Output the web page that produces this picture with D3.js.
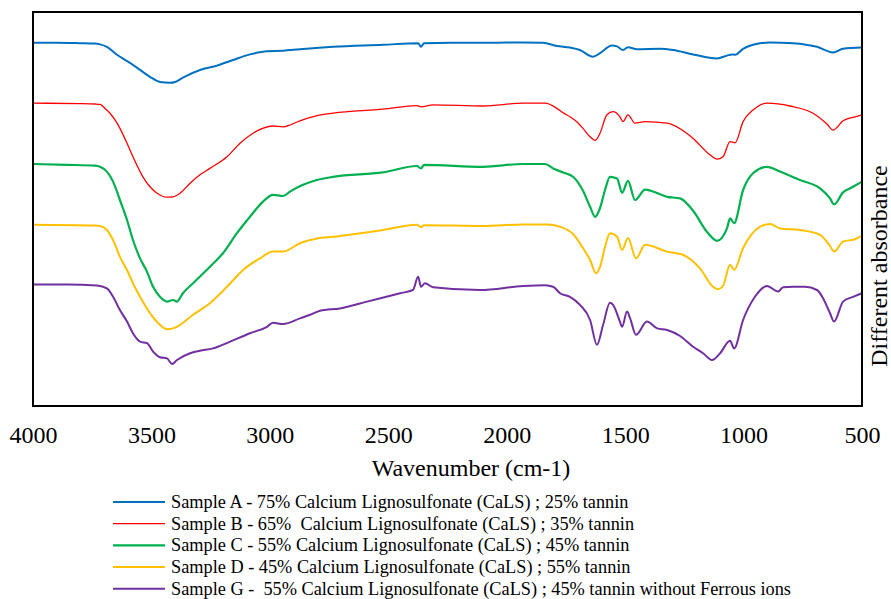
<!DOCTYPE html>
<html>
<head>
<meta charset="utf-8">
<script src="https://cdn.jsdelivr.net/npm/d3@7"></script>
<style>
  body { margin: 0; background: #fff; }
  text { font-family: "Liberation Serif", "Times New Roman", serif; fill: #000; }
</style>
</head>
<body>
<svg id="chart" width="891" height="599"></svg>
<script>
// FTIR spectra, [wavenumber cm-1, offset absorbance (a.u.)]
const sampleA = [[4000,90.8],[3900,90.8],[3802,90.7],[3738,90.6],[3717,90.4],[3688,89.8],[3645,87.8],[3578,85.3],[3506,82.3],[3464,81.0],[3422,80.8],[3400,81.0],[3367,82.1],[3295,84.0],[3223,85.1],[3156,86.5],[3084,87.9],[3012,88.7],[2944,88.8],[2873,89.2],[2733,89.8],[2522,90.3],[2374,90.7],[2362,89.8],[2349,90.7],[2239,90.8],[2071,90.8],[1931,90.9],[1847,90.8],[1788,90.0],[1733,89.6],[1691,89.0],[1636,87.3],[1606,88.2],[1556,90.1],[1534,89.9],[1509,89.0],[1488,89.7],[1450,89.2],[1353,89.3],[1298,89.0],[1213,87.9],[1112,86.9],[1070,87.6],[1049,87.9],[1036,87.8],[1002,89.3],[931,90.7],[888,90.9],[791,90.7],[690,89.8],[622,88.4],[580,89.3],[500,89.6]];

const sampleB = [[4000,75.7],[3802,75.6],[3738,75.5],[3717,75.4],[3696,74.4],[3675,73.2],[3645,70.7],[3603,65.7],[3578,62.3],[3536,57.3],[3506,54.8],[3476,53.2],[3434,52.2],[3409,52.3],[3379,53.2],[3337,55.7],[3295,57.8],[3253,59.4],[3181,62.3],[3126,65.7],[3071,68.2],[2987,70.0],[2944,69.8],[2928,70.0],[2873,71.3],[2801,72.6],[2733,73.2],[2522,74.2],[2379,75.1],[2362,74.8],[2311,75.3],[2100,75.0],[1931,75.7],[1838,75.7],[1788,74.4],[1762,73.3],[1733,72.3],[1703,71.0],[1678,69.4],[1648,67.3],[1627,66.4],[1606,68.2],[1577,72.8],[1551,73.6],[1522,72.3],[1509,71.1],[1488,72.8],[1458,70.7],[1416,71.1],[1323,70.7],[1213,66.9],[1142,62.8],[1112,61.7],[1087,62.3],[1057,66.1],[1036,65.8],[1002,71.1],[960,74.0],[901,75.7],[804,75.0],[707,73.2],[648,70.5],[622,69.0],[580,71.3],[530,72.3],[500,72.8]];

const sampleC = [[4000,60.5],[3856,60.3],[3738,60.1],[3717,59.8],[3688,58.6],[3662,56.1],[3633,51.5],[3603,46.5],[3578,41.5],[3548,36.9],[3519,33.6],[3493,29.8],[3464,27.3],[3434,26.1],[3409,26.5],[3392,26.1],[3367,28.2],[3324,30.7],[3253,34.8],[3198,38.2],[3139,43.2],[3084,47.3],[3029,51.1],[2987,52.8],[2944,52.5],[2915,53.6],[2860,55.3],[2801,56.5],[2733,57.3],[2522,58.4],[2379,60.0],[2362,59.4],[2349,60.3],[2100,59.8],[1931,60.5],[1838,60.5],[1804,59.4],[1762,58.4],[1720,57.3],[1678,53.8],[1648,49.8],[1627,47.3],[1606,49.5],[1585,54.0],[1564,57.3],[1534,56.9],[1513,53.3],[1488,56.3],[1458,51.5],[1416,54.1],[1323,52.3],[1268,51.9],[1213,48.8],[1154,43.5],[1112,41.3],[1070,44.4],[1057,46.9],[1040,45.7],[1002,54.0],[960,58.2],[901,59.8],[846,58.6],[762,56.5],[677,54.4],[635,51.9],[618,50.4],[580,53.4],[538,54.8],[500,56.1]];

const sampleD = [[4000,45.3],[3738,45.1],[3717,45.0],[3688,44.0],[3662,41.5],[3633,37.3],[3603,34.0],[3578,30.7],[3548,27.3],[3506,23.2],[3464,20.3],[3434,19.2],[3409,19.4],[3379,20.3],[3324,22.8],[3253,25.7],[3181,29.8],[3113,34.0],[3042,36.9],[2987,38.6],[2944,38.6],[2873,40.7],[2801,41.9],[2733,42.3],[2522,44.0],[2379,45.3],[2362,44.7],[2349,45.2],[2100,45.0],[1931,45.4],[1830,45.4],[1775,44.8],[1720,43.0],[1678,39.5],[1648,36.5],[1623,33.2],[1606,34.8],[1585,39.8],[1564,43.2],[1534,42.3],[1513,39.0],[1488,42.0],[1454,36.9],[1416,40.3],[1323,38.6],[1256,37.8],[1184,34.4],[1129,29.8],[1108,29.2],[1087,30.0],[1057,35.3],[1040,34.0],[1002,39.5],[931,44.8],[888,45.5],[846,44.4],[762,44.0],[677,42.8],[635,40.0],[618,38.6],[580,41.1],[530,41.7],[500,42.6]];

const sampleG = [[4000,30.4],[3856,30.4],[3730,30.1],[3688,29.4],[3662,27.3],[3633,24.0],[3603,21.1],[3578,18.2],[3548,16.1],[3519,15.7],[3493,13.6],[3464,12.2],[3434,11.9],[3413,10.5],[3392,11.5],[3337,13.2],[3295,13.8],[3240,14.4],[3168,16.1],[3084,18.2],[3012,19.8],[2987,20.8],[2944,20.5],[2873,21.9],[2830,22.8],[2788,23.8],[2704,24.4],[2590,26.1],[2450,28.2],[2396,29.0],[2374,32.3],[2362,29.8],[2345,30.7],[2311,29.7],[2113,29.0],[1931,30.0],[1838,30.2],[1804,29.8],[1775,28.2],[1733,27.3],[1691,25.3],[1648,21.5],[1619,15.3],[1593,20.3],[1564,25.8],[1551,25.3],[1522,21.1],[1513,19.8],[1492,23.6],[1479,21.9],[1454,17.8],[1408,21.1],[1365,19.4],[1323,19.0],[1268,17.5],[1213,14.8],[1171,13.2],[1133,11.5],[1099,13.2],[1057,16.3],[1040,14.4],[1002,21.5],[952,27.3],[901,30.0],[854,28.6],[833,29.7],[791,29.8],[741,29.8],[690,29.0],[664,26.9],[635,23.2],[618,21.1],[580,26.1],[538,27.3],[500,28.2]];

const seriesNames = [
  "Sample A - 75% Calcium Lignosulfonate (CaLS) ; 25% tannin",
  "Sample B - 65%  Calcium Lignosulfonate (CaLS) ; 35% tannin",
  "Sample C - 55% Calcium Lignosulfonate (CaLS) ; 45% tannin",
  "Sample D - 45% Calcium Lignosulfonate (CaLS) ; 55% tannin",
  "Sample G -  55% Calcium Lignosulfonate (CaLS) ; 45% tannin without Ferrous ions"
];
const seriesColors = ["#0070C0", "#FF0000", "#00B050", "#FFC000", "#7030A0"];
const seriesWidths = [2, 1.3, 2.2, 2, 2];
const xTicks = [4000, 3500, 3000, 2500, 2000, 1500, 1000, 500];

const series = [sampleA, sampleB, sampleC, sampleD, sampleG];

const svg = d3.select("#chart");
const plot = { left: 33, right: 862, top: 12, bottom: 406 };

const x = d3.scaleLinear().domain([4000, 500]).range([plot.left, plot.right]);
const y = d3.scaleLinear().domain([0, 98.5]).range([plot.bottom, plot.top]);

const line = d3.line()
    .x(d => x(d[0]))
    .y(d => y(d[1]))
    .curve(d3.curveMonotoneX);

svg.append("g")
    .selectAll("path")
    .data(series)
    .enter().append("path")
    .attr("d", line)
    .attr("fill", "none")
    .attr("stroke", (d, i) => seriesColors[i])
    .attr("stroke-width", (d, i) => seriesWidths[i])
    .attr("stroke-linejoin", "round");

// frame
svg.append("rect")
    .attr("x", plot.left)
    .attr("y", plot.top)
    .attr("width", plot.right - plot.left)
    .attr("height", plot.bottom - plot.top)
    .attr("fill", "none")
    .attr("stroke", "#000")
    .attr("stroke-width", 2);

// x axis labels only, no tick marks
const xAxis = d3.axisBottom(x)
    .tickValues(xTicks)
    .tickFormat(d3.format("d"))
    .tickSize(0)
    .tickPadding(0);
const gx = svg.append("g")
    .attr("transform", `translate(0,${plot.bottom})`)
    .call(xAxis)
    .attr("font-family", "Liberation Serif")
    .attr("font-size", 24);
gx.select(".domain").remove();
gx.selectAll("text")
    .attr("dy", null)
    .attr("y", 37)
    .attr("fill", "#000");

svg.append("text")
    .attr("x", 471)
    .attr("y", 476)
    .attr("text-anchor", "middle")
    .style("font-size", "24px")
    .text("Wavenumber (cm-1)");

svg.append("text")
    .attr("transform", "translate(887,266) rotate(-90)")
    .attr("text-anchor", "middle")
    .style("font-size", "24px")
    .text("Different absorbance");

// legend
const legend = svg.append("g")
    .selectAll("g")
    .data(seriesNames)
    .enter().append("g")
    .attr("transform", (d, i) => `translate(113,${502 + i * 21.7})`);

legend.append("line")
    .attr("x1", 0).attr("x2", 52)
    .attr("stroke", (d, i) => seriesColors[i])
    .attr("stroke-width", (d, i) => seriesWidths[i]);

legend.append("text")
    .attr("x", 58)
    .attr("y", 6)
    .style("font-size", "18.3px")
    .style("white-space", "pre")
    .text(d => d);
</script>
</body>
</html>
